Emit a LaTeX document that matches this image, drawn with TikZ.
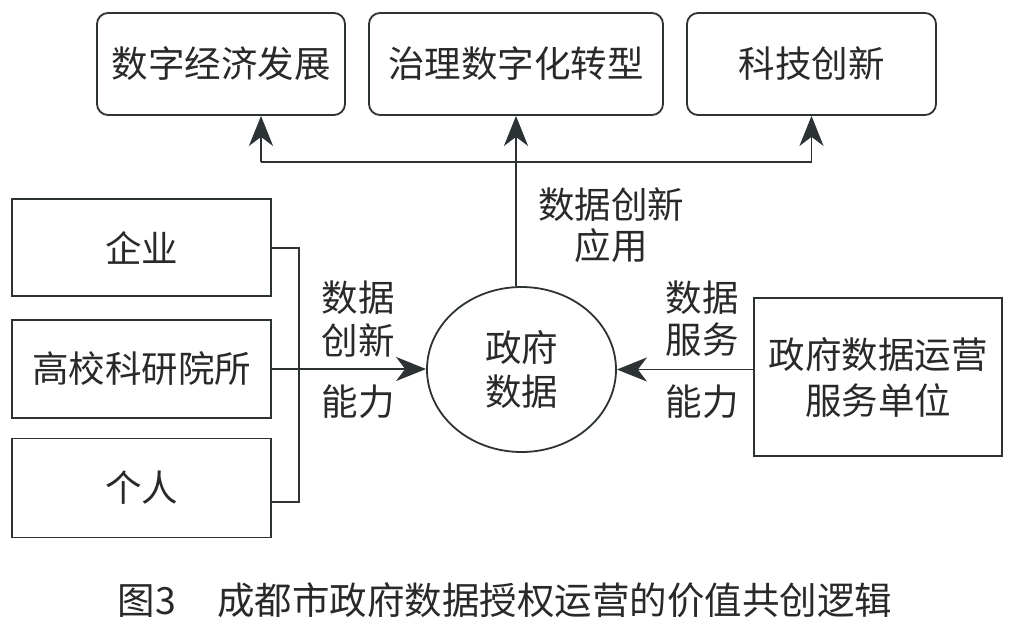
\documentclass[tikz,border=0pt]{standalone}
\usepackage{fontspec}
\newfontfamily\cjk{Noto Sans CJK SC}
\usetikzlibrary{arrows.meta,shapes.geometric}
\definecolor{lc}{RGB}{45,50,52}
\definecolor{tc}{RGB}{40,42,42}
\begin{document}
\begin{tikzpicture}[x=1pt,y=-1pt,
  font=\cjk\fontsize{36.5}{44}\selectfont, text=tc,
  line/.style={draw=lc, line width=1.8pt},
  box/.style={draw=lc, line width=1.8pt, inner sep=0pt, align=center},
  rbox/.style={box, rounded corners=11pt},
  arr/.style={line, -{Stealth[length=30pt,width=24pt,inset=9pt,fill=lc]}},
  lbl/.style={inner sep=0pt}]
\useasboundingbox[fill=white] (0,0) rectangle (1015,619);
% top boxes
\node[rbox, minimum width=248pt, minimum height=102pt] (t1) at (221,64) {数字经济发展};
\node[rbox, minimum width=294pt, minimum height=102pt] (t2) at (516,64) {治理数字化转型};
\node[rbox, minimum width=249pt, minimum height=102pt] (t3) at (811.5,64) {科技创新};
% left boxes
\node[box, minimum width=259pt, minimum height=97pt] (l1) at (141.5,247.5) {企业};
\node[box, minimum width=259pt, minimum height=98pt] (l2) at (141.5,369) {高校科研院所};
\node[box, minimum width=259pt, minimum height=99pt] (l3) at (141.5,488) {个人};
% right box
\node[box, minimum width=248pt, minimum height=158pt] (r) at (878,377) {政府数据运营\\[2pt]服务单位};
% circle
\node[box, ellipse, minimum width=189pt, minimum height=165pt] (c) at (521.5,369.5) {政府\\数据};
% connectors top
\coordinate (jl) at (261,162);
\draw[line] (jl) -- (t3.south |- jl);
\draw[arr] (jl) -- (jl |- t1.south);
\draw[arr] (t3.south |- jl) -- (t3.south);
\draw[arr] (t2.south |- c.north) -- (t2.south);
% bracket
\coordinate (b1) at (299,248);
\coordinate (b2) at (299,502);
\draw[line] (l1.east |- b1) -- (b1) -- (b2) -- (l3.east |- b2);
\draw[arr] (l2.east) -- (c.west |- l2.east);
\draw[arr] (r.west |- c.east) -- (c.east);
% labels
\node[lbl] (a1) at (611,205) {数据创新};
\node[lbl] (a2) at (611,246) {应用};
\node[lbl] (p1) at (358,298) {数据};
\node[lbl] (p2) at (358,340) {创新};
\node[lbl] (p3) at (358,402) {能力};
\node[lbl] (q1) at (702,298) {数据};
\node[lbl] (q2) at (702,340) {服务};
\node[lbl] (q3) at (702,402) {能力};
% caption
\node[lbl, font=\cjk\fontsize{37.5}{44}\selectfont] (cap) at (505,600) {图3\hspace{1.1em}成都市政府数据授权运营的价值共创逻辑};
\end{tikzpicture}
\end{document}
